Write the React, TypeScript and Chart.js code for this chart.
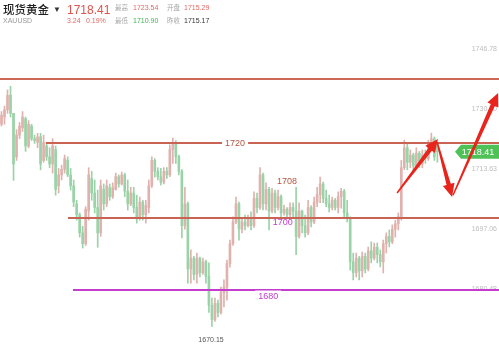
import React, { useEffect, useRef } from "react";
import { Chart, registerables } from "chart.js";

Chart.register(...registerables);

const slotCount = 166;
const barSlots = Array.from({ length: slotCount }, (_, i) => String(i));

const opens = [
  1726, 1728, 1730, 1734, 1729, 1717, 1723, 1725, 1727.5, 1720,
  1725.5, 1722, 1721, 1722.5, 1716, 1720, 1717, 1715, 1719, 1709,
  1712, 1713.5, 1716, 1712, 1709, 1704, 1701, 1696, 1693, 1702,
  1711, 1707, 1703, 1696, 1708, 1704, 1708.5, 1706, 1708, 1711.5,
  1709.5, 1712, 1707.5, 1704, 1707, 1703, 1700, 1704.5, 1701, 1703,
  1709, 1716, 1713, 1711.5, 1710, 1713, 1712, 1719, 1721, 1717,
  1713, 1698, 1704, 1686, 1689, 1684.5, 1689, 1685, 1688, 1684,
  1676, 1672, 1676.5, 1674, 1679.5, 1681, 1687.5, 1693, 1699, 1704,
  1697, 1699, 1698, 1700, 1698, 1705.5, 1703, 1712, 1704, 1708,
  1702, 1707, 1703, 1706, 1701.5, 1702.5, 1701, 1703, 1702, 1695,
  1702, 1698, 1696, 1703, 1699, 1704.5, 1706.5, 1709.5, 1705.5, 1704,
  1703, 1705, 1703, 1706, 1707.5, 1701.5, 1700, 1688, 1685, 1689,
  1685.5, 1689.5, 1686, 1691, 1689, 1692, 1690, 1688, 1693, 1695,
  1693.5, 1697, 1698.5, 1700.5, 1714, 1719.5, 1715.5, 1717.5, 1714.5, 1718,
  1715, 1717.5, 1716.5, 1720.5, 1722, 1720
];
const highs = [
  1729.5, 1731, 1735.5, 1736.5, 1729, 1724.5, 1726.5, 1729.5, 1728, 1727,
  1726, 1723, 1723.5, 1723.5, 1723, 1721, 1719.5, 1722, 1720, 1713.8,
  1714.7, 1717.5, 1717, 1713.8, 1710.6, 1705, 1701.5, 1697.8, 1703.2, 1714,
  1713, 1710.6, 1707.8, 1710.6, 1709.5, 1710.6, 1709.5, 1709.8, 1712.5, 1712,
  1712.8, 1712.5, 1710.6, 1708.6, 1708.6, 1706.4, 1705.9, 1705, 1705, 1710.6,
  1717, 1716.5, 1714, 1713.8, 1714, 1714, 1720.3, 1722.2, 1721.5, 1717.5,
  1713.5, 1708.6, 1704.5, 1691.3, 1689.5, 1690.4, 1689.3, 1689, 1688.5, 1687.7,
  1678, 1678, 1677.4, 1681, 1683, 1688.5, 1694, 1700.4, 1705.9, 1704.5,
  1700.1, 1700.9, 1700.9, 1701.8, 1707.3, 1707, 1714, 1712.5, 1709.8, 1708.6,
  1708.3, 1707.8, 1707.8, 1706.5, 1703.7, 1703, 1704.3, 1704.3, 1708.6, 1704.3,
  1702.3, 1700.9, 1705, 1703.5, 1705.9, 1708.6, 1711.4, 1710, 1707.8, 1706.4,
  1705.9, 1705.5, 1707.3, 1708.3, 1708, 1705, 1700.4, 1690.4, 1690.4, 1689.5,
  1690.7, 1690.4, 1692.1, 1693.5, 1693.2, 1693.2, 1691.3, 1694, 1696, 1696.8,
  1698.2, 1699.5, 1701.5, 1716, 1721.6, 1720.8, 1718.9, 1718, 1719.5, 1718.5,
  1718.9, 1718.9, 1721.6, 1723.54, 1722.5, 1720.8
];
const lows = [
  1725.5, 1726, 1729, 1728, 1710.5, 1716, 1722, 1724, 1718.5, 1719.5,
  1721.5, 1720.7, 1719.5, 1713.4, 1715.5, 1716, 1714, 1712.5, 1706.4, 1707,
  1710.6, 1712.5, 1711.5, 1707.8, 1703.2, 1699.5, 1694.8, 1691.8, 1692.5, 1699.5,
  1705, 1701.5, 1692, 1695, 1702.3, 1703.2, 1705, 1705.5, 1707.8, 1708.6,
  1709.2, 1706, 1702.3, 1703.5, 1701.5, 1698.7, 1699.5, 1699.5, 1698.7, 1701.5,
  1708.5, 1711.4, 1710.6, 1709.2, 1709.5, 1711, 1711.5, 1715.2, 1715.2, 1712,
  1694.6, 1697, 1682.1, 1682.1, 1683, 1682.1, 1683.8, 1684.5, 1682.1, 1674,
  1670.15, 1671.5, 1672.8, 1673.5, 1675.5, 1677.4, 1686.5, 1692.5, 1698.5, 1694,
  1696, 1696.8, 1697.6, 1696.8, 1697.5, 1701.5, 1702.5, 1702.3, 1702.3, 1696.8,
  1701.5, 1701.5, 1702.3, 1700.4, 1700.9, 1700, 1700.1, 1700.4, 1690, 1694.5,
  1696, 1694.8, 1695.5, 1697.6, 1698.5, 1703.2, 1704.3, 1704.3, 1703.2, 1701.8,
  1702.3, 1702.3, 1701.5, 1702.8, 1700.4, 1699, 1685.7, 1683, 1683.8, 1683,
  1683.8, 1684.9, 1685.5, 1687.7, 1688.5, 1687.7, 1686.6, 1684.9, 1690.4, 1692.1,
  1693, 1694.8, 1696.8, 1699.5, 1713.5, 1713.4, 1714, 1713.4, 1714, 1714,
  1714, 1715.2, 1716, 1718.9, 1716, 1715.5
];
const closes = [
  1728.5, 1730, 1734, 1729, 1715, 1723, 1725.5, 1728, 1720, 1726,
  1722, 1721.5, 1722.5, 1715, 1721, 1717, 1715, 1720, 1708, 1712,
  1713.5, 1716.5, 1712, 1709, 1704.5, 1701, 1696, 1693, 1702.5, 1712,
  1707, 1703, 1696, 1709, 1704, 1709, 1706, 1708.5, 1711.5, 1709.5,
  1712, 1707.5, 1704, 1707, 1703, 1700, 1704.5, 1701, 1703.5, 1709,
  1716, 1713, 1711.5, 1710, 1713, 1712, 1719, 1721, 1717, 1713,
  1698, 1704, 1686, 1689, 1684.5, 1689, 1685, 1688, 1684, 1676,
  1672, 1676.5, 1674, 1679.5, 1681, 1687.5, 1693, 1699, 1704, 1697,
  1699, 1698, 1700, 1698, 1705.5, 1703, 1712, 1704, 1708, 1702,
  1707, 1703, 1706, 1701.5, 1702.5, 1701, 1703, 1702, 1695, 1702,
  1698, 1696, 1703, 1699, 1704.5, 1706.5, 1709.5, 1705.5, 1704, 1703,
  1705, 1703, 1706, 1707.5, 1701.5, 1700, 1688, 1685, 1689, 1685.5,
  1689.5, 1686, 1691, 1689, 1692, 1690, 1688, 1693, 1695, 1693.5,
  1697, 1698.5, 1700.5, 1714, 1719.5, 1715.5, 1717.5, 1714.5, 1718, 1715,
  1717.5, 1716.5, 1720.5, 1722, 1717, 1718.41
];

const axisTicks = [1746.78, 1730.2, 1713.63, 1697.06, 1680.48];
const yMin = 1664.46;
const yMax = 1760.32;

const levelValues = [1738.5, 1720.8, 1700.1, 1680.1];
const levelStartSlots = [-0.5, 14.8, 22.1, 23.8];
const levelColors = ["#cd6656", "#c96454", "#c96454", "#c23cce"];

const noteTexts = ["1720", "1708", "1700", "1680", "1670.15"];
const noteSlots = [77.7, 95, 93.6, 88.7, 69.7];
const noteValues = [1720.8, 1710.3, 1698.85, 1678.4, 1666.5];
const noteColors = ["#b5533f", "#b5533f", "#bf3ccc", "#bf3ccc", "#555555"];
const noteSizes = [9, 9, 9, 9, 7];
const noteBackgrounds = [true, false, false, true, false];

const arrowFromSlots = [131.6, 144.9, 150.2];
const arrowFromValues = [1707.0, 1721.1, 1706.4];
const arrowToSlots = [145.2, 149.9, 165.2];
const arrowToValues = [1721.9, 1705.9, 1734.6];

const lastPrice = 1718.41;

const UP = "#e0b2ae";
const DOWN = "#9ad3a7";
const barColors = closes.map((c, i) => (c >= opens[i] ? UP : DOWN));

const FONT = "'Liberation Sans', Arial, 'Noto Sans CJK SC', sans-serif";
const CJK = "'Noto Sans CJK SC', sans-serif";

const overlayPlugin = {
  id: "overlay",
  afterDatasetsDraw(chart: any) {
    const { ctx } = chart;
    const x = chart.scales.x;
    const y = chart.scales.y;
    ctx.save();
    levelValues.forEach((v, k) => {
      const py = Math.round(y.getPixelForValue(v));
      const px = Math.max(0, x.getPixelForValue(levelStartSlots[k]));
      ctx.strokeStyle = levelColors[k];
      ctx.lineWidth = 2;
      ctx.beginPath();
      ctx.moveTo(px, py);
      ctx.lineTo(chart.width, py);
      ctx.stroke();
    });
    ctx.textAlign = "center";
    ctx.textBaseline = "middle";
    noteTexts.forEach((t, k) => {
      const px = x.getPixelForValue(noteSlots[k]);
      const py = y.getPixelForValue(noteValues[k]);
      ctx.font = `${noteSizes[k]}px ${FONT}`;
      const w = ctx.measureText(t).width;
      if (noteBackgrounds[k]) {
        ctx.fillStyle = "#ffffff";
        ctx.fillRect(px - w / 2 - 3, py - 6, w + 6, 12);
      }
      ctx.fillStyle = noteColors[k];
      ctx.fillText(t, px, py);
    });
    const ty = y.getPixelForValue(lastPrice);
    ctx.fillStyle = "#4fc257";
    ctx.beginPath();
    ctx.moveTo(455, ty);
    ctx.lineTo(461, ty - 7);
    ctx.lineTo(chart.width, ty - 7);
    ctx.lineTo(chart.width, ty + 7);
    ctx.lineTo(461, ty + 7);
    ctx.closePath();
    ctx.fill();
    ctx.fillStyle = "#ffffff";
    ctx.font = `9px ${FONT}`;
    ctx.fillText(lastPrice.toFixed(2), 478, ty + 0.5);
    ctx.fillStyle = "#e8241c";
    arrowFromSlots.forEach((_, k) => {
      const x1 = x.getPixelForValue(arrowFromSlots[k]);
      const y1 = y.getPixelForValue(arrowFromValues[k]);
      const x2 = x.getPixelForValue(arrowToSlots[k]);
      const y2 = y.getPixelForValue(arrowToValues[k]);
      const len = Math.hypot(x2 - x1, y2 - y1);
      const dx = (x2 - x1) / len;
      const dy = (y2 - y1) / len;
      const nx = -dy;
      const ny = dx;
      const L = 13;
      const W = 6;
      const w0 = 0.7;
      const w1 = 2.2;
      const bx = x2 - dx * L;
      const by = y2 - dy * L;
      ctx.beginPath();
      ctx.moveTo(x1 + nx * w0, y1 + ny * w0);
      ctx.lineTo(bx + nx * w1, by + ny * w1);
      ctx.lineTo(bx + nx * W, by + ny * W);
      ctx.lineTo(x2, y2);
      ctx.lineTo(bx - nx * W, by - ny * W);
      ctx.lineTo(bx - nx * w1, by - ny * w1);
      ctx.lineTo(x1 - nx * w0, y1 - ny * w0);
      ctx.closePath();
      ctx.fill();
    });
    ctx.restore();
  },
};

function Header() {
  const base: React.CSSProperties = { position: "absolute", whiteSpace: "nowrap", lineHeight: 1, fontFamily: FONT };
  return (
    <>
      <span style={{ ...base, left: 3, top: 4, fontSize: 11.5, color: "#222", fontFamily: CJK, fontWeight: 500 }}>现货黄金</span>
      <span style={{ ...base, left: 53, top: 6, fontSize: 8, color: "#333" }}>▼</span>
      <span style={{ ...base, left: 67, top: 4, fontSize: 12, color: "#e0524c" }}>1718.41</span>
      <span style={{ ...base, left: 3, top: 17, fontSize: 7, color: "#9a9a9a" }}>XAUUSD</span>
      <span style={{ ...base, left: 67, top: 17, fontSize: 7, color: "#e06a64" }}>3.24</span>
      <span style={{ ...base, left: 86, top: 17, fontSize: 7, color: "#e06a64" }}>0.19%</span>
      <span style={{ ...base, left: 115, top: 4, fontSize: 6.5, color: "#a8a8a8", fontFamily: CJK }}>最高</span>
      <span style={{ ...base, left: 133, top: 4, fontSize: 7, color: "#e06a64" }}>1723.54</span>
      <span style={{ ...base, left: 167, top: 4, fontSize: 6.5, color: "#a8a8a8", fontFamily: CJK }}>开盘</span>
      <span style={{ ...base, left: 184, top: 4, fontSize: 7, color: "#e06a64" }}>1715.29</span>
      <span style={{ ...base, left: 115, top: 17, fontSize: 6.5, color: "#a8a8a8", fontFamily: CJK }}>最低</span>
      <span style={{ ...base, left: 133, top: 17, fontSize: 7, color: "#3fb453" }}>1710.90</span>
      <span style={{ ...base, left: 167, top: 17, fontSize: 6.5, color: "#a8a8a8", fontFamily: CJK }}>昨收</span>
      <span style={{ ...base, left: 184, top: 17, fontSize: 7, color: "#333" }}>1715.17</span>
    </>
  );
}

export default function App() {
  const canvasRef = useRef<HTMLCanvasElement | null>(null);

  useEffect(() => {
    if (!canvasRef.current) return;
    const chart = new Chart(canvasRef.current, {
      type: "bar",
      data: {
        labels: barSlots,
        datasets: [
          {
            label: "wick",
            data: lows.map((l, i) => [l, highs[i]]) as any,
            backgroundColor: barColors,
            barThickness: 1,
            grouped: false,
            borderWidth: 0,
          } as any,
          {
            label: "body",
            data: opens.map((o, i) => [o, closes[i]]) as any,
            backgroundColor: barColors,
            barThickness: 2,
            grouped: false,
            borderWidth: 0,
            minBarLength: 1,
          } as any,
        ],
      },
      options: {
        responsive: false,
        animation: false,
        devicePixelRatio: 1,
        layout: { padding: 0 },
        plugins: { legend: { display: false }, tooltip: { enabled: false }, title: { display: false } },
        scales: {
          x: { type: "category", display: false, offset: true, grid: { display: false } },
          y: {
            position: "right",
            min: yMin,
            max: yMax,
            afterFit: (s: any) => {
              s.width = 0;
              s.paddingTop = 0;
              s.paddingBottom = 0;
            },
            afterBuildTicks: (s: any) => {
              s.ticks = axisTicks.map((v) => ({ value: v }));
            },
            grid: { display: false },
            border: { display: false },
            ticks: {
              mirror: true,
              padding: -2,
              color: "#bdbdbd",
              font: { size: 7, family: FONT },
              callback: (v: any) => Number(v).toFixed(2),
            },
          },
        },
      },
      plugins: [overlayPlugin],
    });
    return () => chart.destroy();
  }, []);

  return (
    <div style={{ position: "fixed", left: 0, top: 0, width: 499, height: 347, background: "#fff", overflow: "hidden" }}>
      <canvas ref={canvasRef} width={499} height={347} style={{ position: "absolute", left: 0, top: 0, width: 499, height: 347 }} />
      <Header />
    </div>
  );
}
